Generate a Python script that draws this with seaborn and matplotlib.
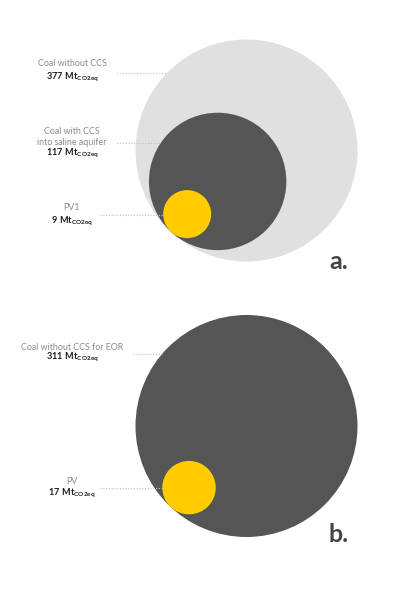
import numpy as np
import pandas as pd
import matplotlib.pyplot as plt
import seaborn as sns

# data (Mt CO2eq)
labels_a = ["Coal without CCS", "Coal with CCS\ninto saline aquifer", "PV1"]
values_a = [377, 117, 9]
labels_b = ["Coal without CCS for EOR", "PV"]
values_b = [311, 17]
colors_a = ["#e0e0e0", "#555555", "#ffcc00"]
colors_b = ["#555555", "#ffcc00"]
tags = ["a.", "b."]

sns.set_theme(style="white")
plt.rcParams["font.family"] = ["Lato", "DejaVu Sans"]
plt.rcParams["mathtext.fontset"] = "custom"
plt.rcParams["mathtext.rm"] = "Lato"
plt.rcParams["mathtext.bf"] = "Lato:bold"

W, H, DPI = 400, 589, 100
fig = plt.figure(figsize=(W / DPI, H / DPI), dpi=DPI)
ax = fig.add_axes([0, 0, 1, 1])
ax.set_xlim(0, W)
ax.set_ylim(H, 0)
ax.set_axis_off()


def bubbles(labels, values, colors, center, R, k):
    # nested circles, all touching at one point on the lower left
    vals = np.array(values, dtype=float)
    r = R * (vals / vals.max()) ** k
    ang = np.deg2rad(47)
    u = np.array([-np.cos(ang), np.sin(ang)])
    T = np.array(center) + R * u
    df = pd.DataFrame({"label": labels, "value": values,
                       "x": T[0] - r * u[0], "y": T[1] - r * u[1], "r": r})
    pt = 72 / DPI
    sizes = {l: (2 * ri * pt) ** 2 for l, ri in zip(labels, r)}
    sns.scatterplot(data=df, x="x", y="y", hue="label", size="label",
                    palette=dict(zip(labels, colors)), sizes=sizes,
                    linewidth=0, legend=False, ax=ax, zorder=1)
    return df


def labels_for(df, layout):
    for (_, row), (ty, vy, ly, lx) in zip(df.iterrows(), layout):
        ax.text(72, ty, row["label"], ha="center", va="center", fontsize=6.4,
                fontweight="normal", color="#8a8a8a", linespacing=1.15)
        ax.text(72, vy, r"$\mathbf{%d\ Mt}_{\mathbf{CO2eq}}$" % row["value"],
                ha="center", va="baseline", fontsize=6.6, color="#1e1e1e")
        xend = row["x"] - np.sqrt(max(row["r"] ** 2 - (ly - row["y"]) ** 2, 0))
        ax.plot([lx, xend], [ly, ly], ls=(0, (1, 1.5)), lw=0.8,
                color="#bdbdbd", zorder=3)


df_a = bubbles(labels_a, values_a, colors_a, (246.5, 150.5), 111, 0.41)
labels_for(df_a, [(64, 79, 73, 117), (137, 156, 143, 117), (208, 223, 215, 100)])

df_b = bubbles(labels_b, values_b, colors_b, (246.5, 426), 111, 0.49)
labels_for(df_b, [(347, 360, 354, 133), (481, 495, 488, 100)])

ax.text(329, 269, tags[0], fontsize=18, fontweight="bold", color="#444444", va="baseline")
ax.text(329, 542, tags[1], fontsize=18, fontweight="bold", color="#444444", va="baseline")

ax.set_xlim(0, W)
ax.set_ylim(H, 0)
fig.savefig("out.png", dpi=DPI)
